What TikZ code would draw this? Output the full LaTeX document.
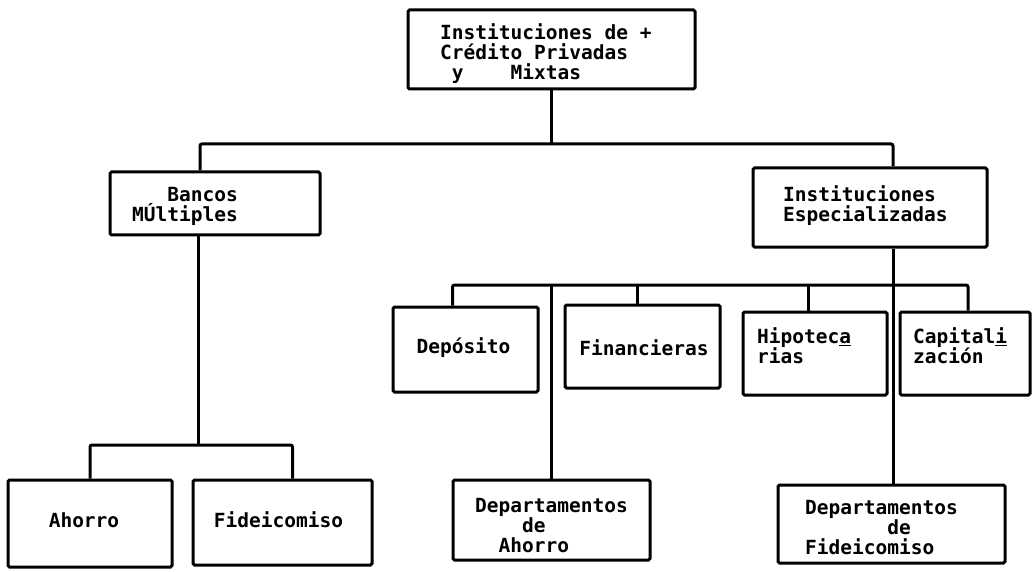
\documentclass[tikz,border=0pt]{standalone}
\usepackage{fontspec}
\setmonofont{DejaVu Sans Mono}
\begin{document}
\begin{tikzpicture}[x=1pt,y=-1pt,
  box/.style={draw=black, line width=3pt, rectangle, inner sep=0pt, rounded corners=1.5pt},
  txt/.style={inner sep=0pt, align=left, font=\fontsize{19.5}{20}\selectfont\ttfamily\bfseries},
  con/.style={draw=black, line width=3pt, rounded corners=2pt}]
\useasboundingbox (0,0) rectangle (1036,572);
% boxes
\node[box, minimum width=287pt, minimum height=79pt] (top) at (551.5,49.5) {};
\node[box, minimum width=210pt, minimum height=63pt] (bancos) at (215,203.5) {};
\node[box, minimum width=234pt, minimum height=79pt] (esp) at (870,207.5) {};
\node[box, minimum width=145pt, minimum height=85pt] (dep) at (465.5,349.5) {};
\node[box, minimum width=155pt, minimum height=83pt] (fin) at (642.5,346.5) {};
\node[box, minimum width=144pt, minimum height=83pt] (hipo) at (815,353.5) {};
\node[box, minimum width=130pt, minimum height=83pt] (capi) at (965,353.5) {};
\node[box, minimum width=197pt, minimum height=80pt] (deptA) at (551.5,520) {};
\node[box, minimum width=227pt, minimum height=78pt] (deptF) at (891.5,524) {};
\node[box, minimum width=164pt, minimum height=87pt] (ahorro) at (90,523.5) {};
\node[box, minimum width=179pt, minimum height=85pt] (fide) at (282.5,522.5) {};
% texts
\node[txt, anchor=west] (tTop) at (440,53.5) {Instituciones de +\\Crédito Privadas\\\hphantom{x}y\hphantom{xxxx}Mixtas};
\node[txt, anchor=west] (tBancos) at (132,206.5) {\hphantom{xxx}Bancos\\MÚltiples};
\node[txt, anchor=west] (tEsp) at (783,206) {Instituciones\\Especializadas};
\node[txt] (tDep) at (463.5,348) {Depósito};
\node[txt] (tFin) at (644,348) {Financieras};
\node[txt, anchor=west] (tHipo) at (757,346) {Hipotec\underline{a}\\rias};
\node[txt, anchor=west] (tCapi) at (913,346) {Capital\underline{i}\\zación};
\node[txt, anchor=west] (tDA) at (475,526) {Departamentos\\\hphantom{xxxx}de\\\hphantom{xx}Ahorro};
\node[txt, anchor=west] (tDF) at (805,527.5) {Departamentos\\\hphantom{xxxxxxx}de\\Fideicomiso};
\node[txt] (tAh) at (84,520) {Ahorro};
\node[txt] (tFi) at (278.5,520) {Fideicomiso};
% junctions
\coordinate (j1) at (552,144);
\coordinate (j2) at (198,445);
\coordinate (j3) at (893,285);
% connectors
\draw[con] (top.south) -- (top.south |- j1);
\draw[con] ([xshift=-15pt]bancos.north) |- (j1) -| ([xshift=23pt]esp.north);
\draw[con] ([xshift=-17pt]bancos.south) -- (j2);
\draw[con] (ahorro.north) |- (j2) -| ([xshift=10pt]fide.north);
\draw[con] ([xshift=23pt]esp.south) -- ([xshift=23pt]esp.south |- deptF.north);
\draw[con] ([xshift=-13pt]dep.north) |- (j3) -| ([xshift=3pt]capi.north);
\draw[con] ([xshift=-5pt]fin.north) -- ([xshift=-5pt]fin.north |- j3);
\draw[con] ([xshift=-7pt]hipo.north) -- ([xshift=-7pt]hipo.north |- j3);
\draw[con] (deptA.north) -- (deptA.north |- j3);
\end{tikzpicture}
\end{document}
